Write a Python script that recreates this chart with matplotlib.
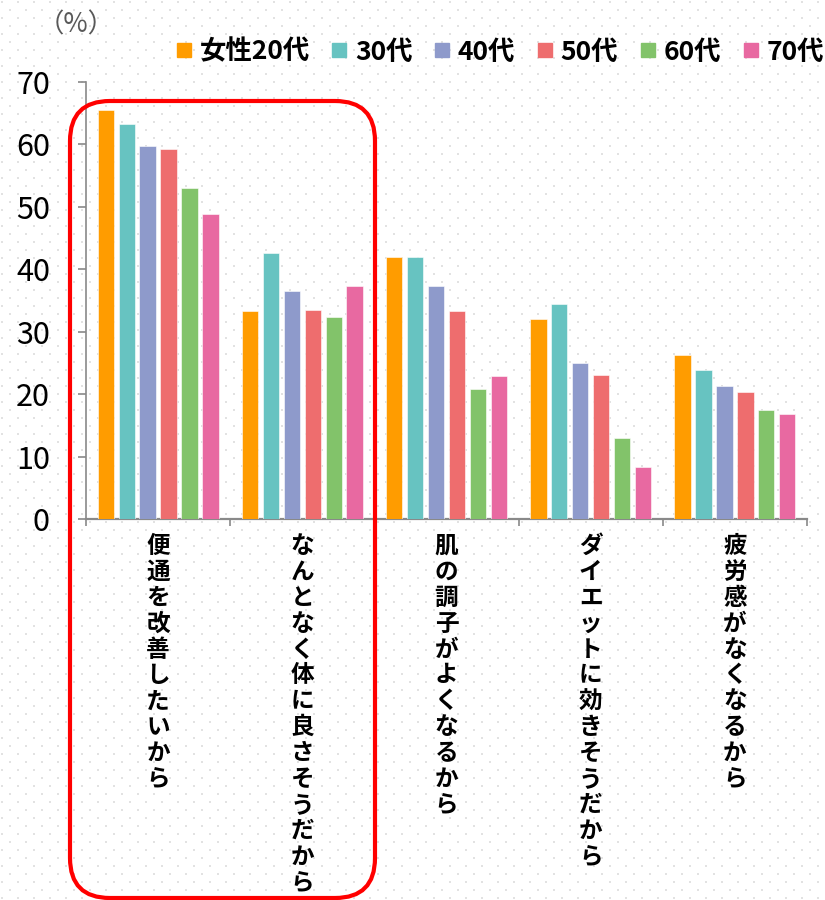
import numpy as np
import matplotlib
matplotlib.use("Agg")
import matplotlib.pyplot as plt
from matplotlib.lines import Line2D
from matplotlib.patches import FancyBboxPatch

plt.rcParams['font.family'] = ['Noto Sans CJK JP', 'DejaVu Sans']

# Reasons for drinking, by women's age group (%)
categories = ["便通を改善したいから", "なんとなく体に良さそうだから", "肌の調子がよくなるから",
              "ダイエットに効きそうだから", "疲労感がなくなるから"]
series_names = ["女性20代", "30代", "40代", "50代", "60代", "70代"]
age20 = [65.5, 33.3, 42.0, 32.1, 26.2]
age30 = [63.3, 42.6, 42.0, 34.5, 23.8]
age40 = [59.7, 36.5, 37.3, 25.0, 21.3]
age50 = [59.3, 33.5, 33.3, 23.1, 20.3]
age60 = [53.1, 32.4, 20.8, 13.0, 17.4]
age70 = [48.9, 37.4, 22.9, 8.3, 16.8]
yticks = [0, 10, 20, 30, 40, 50, 60, 70]

series = [age20, age30, age40, age50, age60, age70]
colors = ["#FF9C00", "#67C3C1", "#8E9ACB", "#EE6D6E", "#82C36A", "#E869A1"]

W, H = 825, 900
fig = plt.figure(figsize=(W / 100, H / 100), dpi=100)
fig.patch.set_facecolor("white")

# dotted paper background
bg = fig.add_axes([0, 0, 1, 1], zorder=-10)
bg.set_xlim(0, W)
bg.set_ylim(H, 0)
bg.axis("off")
gx, gy = [], []
for r, yy in enumerate(np.arange(2, H, 8)):
    xs = np.arange(2 + (8 if r % 2 else 0), W, 16)
    gx.extend(xs)
    gy.extend([yy] * len(xs))
bg.scatter(gx, gy, marker="s", s=1.8, color="#e2e2e2", linewidths=0)

ax = fig.add_axes([86 / W, 1 - 519 / H, (807 - 86) / W, (519 - 82) / H])
ax.patch.set_alpha(0)

x = np.arange(len(categories))
pitch = 0.145
bw = 0.113
for i, (vals, c) in enumerate(zip(series, colors)):
    ax.bar(x + (i - 2.5) * pitch, vals, width=bw, color=c,
           edgecolor="white", linewidth=0.4, zorder=3)

ax.set_xlim(-0.5, len(categories) - 0.5)
ax.set_ylim(0, 70)
ax.set_yticks(yticks)
ax.set_yticklabels([str(v) for v in yticks], fontsize=22)
ax.tick_params(axis="y", length=6, width=1.2, color="#898989", pad=20, labelcolor="black")

ax.set_xticks(np.arange(-0.5, len(categories)), minor=False)
ax.set_xticklabels([])
ax.tick_params(axis="x", length=5, width=1.2, color="#898989", direction="out")

for s in ["top", "right"]:
    ax.spines[s].set_visible(False)
for s in ["left", "bottom"]:
    ax.spines[s].set_color("#898989")
ax.spines["left"].set_linewidth(1.2)
ax.spines["bottom"].set_linewidth(1.6)

# vertical category labels
for xi, lab in zip(x, categories):
    ax.text(xi, -2.4, "\n".join(lab), ha="center", va="top", fontsize=17,
            fontweight="bold", linespacing=1.1, transform=ax.transData)

# unit label
fig.text(76 / W, 1 - 25 / H, "（%）", ha="center", va="center", fontsize=19, color="#595959")

# legend
handles = [Line2D([], [], marker="s", linestyle="", markersize=10.5, color=c) for c in colors]
fig.legend(handles, series_names, loc="center right", bbox_to_anchor=(824 / W, 1 - 52 / H),
           ncol=6, frameon=False, handletextpad=0.2, columnspacing=0.72,
           handlelength=0.8, borderpad=0.0, borderaxespad=0.0,
           prop={"size": 19, "weight": "bold"})

# highlight box around the first two categories
box = FancyBboxPatch((70 + 40, H - 898 + 40), (375 - 70) - 80, (898 - 101) - 80,
                     boxstyle="round,pad=40", transform=None,
                     fill=False, edgecolor="#FF0000", linewidth=3, zorder=20)
fig.add_artist(box)

fig.savefig("out.png", dpi=100)
